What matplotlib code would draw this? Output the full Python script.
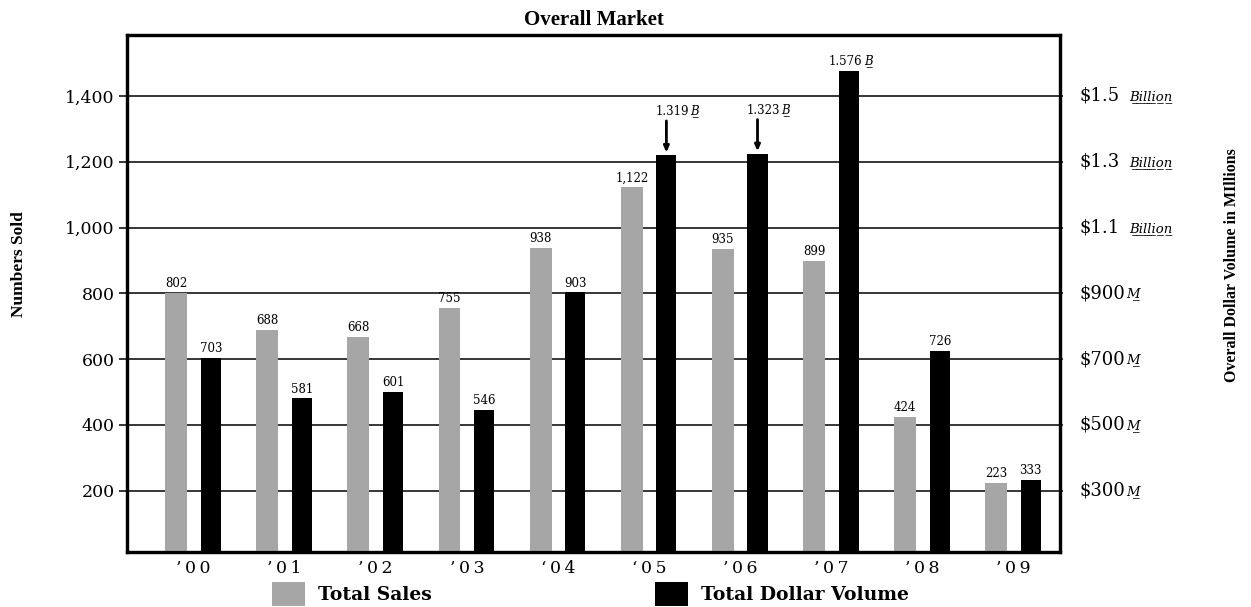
import numpy as np
import matplotlib.pyplot as plt
from matplotlib.patches import Patch

# данні з графіка
years = ["’00", "’01", "’02", "’03", "‘04", "‘05", "’06", "’07", "’08", "’09"]
total_sales = [802, 688, 668, 755, 938, 1122, 935, 899, 424, 223]
dollar_volume = [703, 581, 601, 546, 903, 1319, 1323, 1576, 726, 333]  # мільйони

left_ticks = [200, 400, 600, 800, 1000, 1200, 1400]
left_labels = ["200", "400", "600", "800", "1,000", "1,200", "1,400"]
right_ticks = [300, 500, 700, 900, 1100, 1300, 1500]
right_main = ["\\$300", "\\$500", "\\$700", "\\$900", "\\$1.1", "\\$1.3", "\\$1.5"]
right_unit = ["M", "M", "M", "M", "Billion", "Billion", "Billion"]
arrow_years = [5, 6]

GRAY = '#a6a6a6'
SERIF = 'DejaVu Serif'


def ul(s):
    # підкреслення через combining low line
    return ''.join(c + '\u0332' for c in s)


def spaced(s):
    return '\u2009'.join(s)


W, H = 1251, 607
fig = plt.figure(figsize=(W / 100, H / 100), dpi=100)
ax = fig.add_axes([127 / W, 1 - 552 / H, (1060 - 127) / W, (552 - 35) / H])
ax2 = ax.twinx()

x = np.arange(len(years))
ax.set_xlim(-0.54, 9.70)
ax.set_ylim(14, 1585)
ax2.set_ylim(114, 1685)  # праву шкалу зсунуто на 100

ax.bar(x, total_sales, width=0.24, color=GRAY, zorder=3)
ax2.bar(x + 0.38, dollar_volume, width=0.22, color='black', zorder=3)

ax.yaxis.grid(True, color='black', linewidth=1.1, zorder=0)
ax.set_axisbelow(True)

for a in (ax, ax2):
    for sp in a.spines.values():
        sp.set_linewidth(2.3)

ax.set_yticks(left_ticks, left_labels, fontfamily=SERIF, fontsize=12.5)
ax.tick_params(axis='y', length=6, width=1.1, pad=3)
ax.set_xticks(x + 0.19, [spaced(y) for y in years], fontfamily=SERIF, fontsize=12.5)
ax.tick_params(axis='x', length=0, pad=6)

ax2.set_yticks(right_ticks, [''] * len(right_ticks))
ax2.tick_params(axis='y', length=2, width=1.1)

# підписи правої осі
for t, m, u in zip(right_ticks, right_main, right_unit):
    txt = ax2.annotate(m, xy=(1, t), xycoords=('axes fraction', 'data'), xytext=(14, 0),
                       textcoords='offset points', va='center', ha='left',
                       fontfamily=SERIF, fontsize=13)
    gap = 7 if u == 'Billion' else 0.5
    ax2.annotate(ul(u), xy=(1, 0.1), xycoords=txt, xytext=(gap, 0), textcoords='offset points',
                 va='bottom', ha='left', fontfamily=SERIF, fontstyle='italic', fontsize=9.5)

# підписи над стовпцями
for i, v in enumerate(total_sales):
    ax.annotate(f"{v:,}", xy=(x[i], v), xytext=(0, 2), textcoords='offset points',
                ha='center', va='bottom', fontfamily=SERIF, fontsize=8.5)

for i, v in enumerate(dollar_volume):
    xi = x[i] + 0.38
    if v >= 1000:
        dy = 27 if i in arrow_years else 2
        dx = 4 if i in arrow_years else -2
        txt = ax2.annotate(f"{v / 1000:.3f}", xy=(xi, v), xytext=(dx, dy),
                           textcoords='offset points', ha='center', va='bottom',
                           fontfamily=SERIF, fontsize=8.5)
        ax2.annotate(ul('B'), xy=(1, 0.05), xycoords=txt, xytext=(1, 0), textcoords='offset points',
                     ha='left', va='bottom', fontfamily=SERIF, fontstyle='italic', fontsize=8.5)
        if i in arrow_years:
            ax2.annotate('', xy=(xi, v), xytext=(xi, v + 105),
                         arrowprops=dict(arrowstyle='-|>,head_length=0.35,head_width=0.15',
                                         color='black', lw=2, shrinkA=0, shrinkB=2))
    else:
        ax2.annotate(str(v), xy=(xi, v), xytext=(0, 2), textcoords='offset points',
                     ha='center', va='bottom', fontfamily=SERIF, fontsize=8.5)

fig.text(594 / W, 1 - 20 / H, 'Overall Market', ha='center', va='center',
         fontfamily='Liberation Serif', fontweight='bold', fontsize=15)
fig.text(19 / W, 1 - 264 / H, 'Numbers Sold', rotation=90, ha='center', va='center',
         fontfamily='Liberation Serif', fontweight='bold', fontsize=12.5)
fig.text(1232 / W, 1 - 265 / H, 'Overall Dollar Volume in MIllions', rotation=90,
         ha='center', va='center', fontfamily='Liberation Serif', fontweight='bold', fontsize=11.5)

handles = [Patch(facecolor=GRAY, edgecolor='none'), Patch(facecolor='black', edgecolor='none')]
fig.legend(handles, ['Total Sales', 'Total Dollar Volume'], ncol=2, frameon=False,
           loc='upper left', bbox_to_anchor=(272 / W, 1 - 582 / H), borderpad=0,
           borderaxespad=0, handlelength=1.75, handleheight=1.6, handletextpad=0.7,
           columnspacing=11.9, prop={'family': SERIF, 'weight': 'bold', 'size': 13.5})

fig.savefig('out.png', dpi=100)
